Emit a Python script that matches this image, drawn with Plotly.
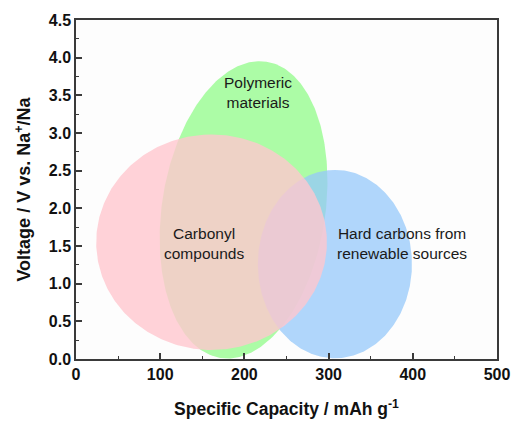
import numpy as np
import plotly.graph_objects as go

# Region data (specific capacity in mAh/g, voltage in V)
region_names = ["Polymeric materials", "Hard carbons from renewable sources", "Carbonyl compounds"]
center_x = [199, 307.5, 161]
center_y = [1.98, 1.26, 1.55]
radius_x = [97, 91.5, 137]      # semi-axis across capacity (mAh/g) before tilt
radius_y = [1.99, 1.25, 1.43]   # semi-axis along voltage (V) before tilt
tilt_deg = [-8.8, 0, 0]         # screen tilt (negative = top leans right)
fill_colors = ["rgba(172,252,166,1)", "rgba(150,200,250,0.75)", "rgba(255,199,206,0.8)"]

label_text = ["Polymeric<br>materials", "Carbonyl<br>compounds", "Hard carbons from<br>renewable sources"]
label_x = [216, 152, 387]
label_y = [3.54, 1.53, 1.53]

x_ticks = [0, 100, 200, 300, 400, 500]
y_ticks = [0.0, 0.5, 1.0, 1.5, 2.0, 2.5, 3.0, 3.5, 4.0, 4.5]
x_range = [0, 500]
y_range = [0, 4.5]

W, H = 511, 421
ml, mr, mt, mb = 76, 14, 20, 62
pw, ph = W - ml - mr, H - mt - mb
kx = pw / (x_range[1] - x_range[0])
ky = ph / (y_range[1] - y_range[0])

fig = go.Figure()
t = np.linspace(0, 2 * np.pi, 361)
for cx, cy, rx, ry, th, col, nm in zip(center_x, center_y, radius_x, radius_y, tilt_deg, fill_colors, region_names):
    a = ry * ky  # vertical semi-axis in px
    b = rx * kx  # horizontal semi-axis in px
    thr = np.deg2rad(th)
    ux, uy = -np.sin(thr), np.cos(thr)
    vx, vy = np.cos(thr), np.sin(thr)
    px = a * np.cos(t) * ux + b * np.sin(t) * vx
    py = a * np.cos(t) * uy + b * np.sin(t) * vy
    fig.add_trace(go.Scatter(
        x=cx + px / kx, y=cy + py / ky, mode="lines", fill="toself",
        fillcolor=col, line=dict(width=0), hoverinfo="skip", name=nm, showlegend=False))

for tx, x, y in zip(label_text, label_x, label_y):
    fig.add_annotation(x=x, y=y, text=tx, showarrow=False,
                       font=dict(family="Liberation Sans, Arial", size=15.5, color="#1a1a1a"),
                       align="center", xanchor="center", yanchor="middle")

axis_common = dict(
    showgrid=False, zeroline=False, showline=True, linecolor="#3a3a3a", linewidth=1.5,
    mirror=True, ticks="inside", ticklen=6, tickwidth=1.5, tickcolor="#3a3a3a", automargin=False,
    tickfont=dict(family="Liberation Sans, Arial", size=16, color="#111"),
)

fig.update_xaxes(range=x_range, tickvals=x_ticks, ticktext=[f"<b>{v}</b>" for v in x_ticks],
                 minor=dict(dtick=50, ticks="inside", ticklen=3, tickwidth=1.2, tickcolor="#3a3a3a"),
                 title=dict(text="<b>Specific Capacity / mAh g<sup>-1</sup></b>",
                            font=dict(family="Liberation Sans, Arial", size=17.5, color="#111"), standoff=21),
                 **axis_common)
fig.update_yaxes(range=y_range, tickvals=y_ticks, ticktext=[f"<b>{v:.1f}</b>" for v in y_ticks],
                 minor=dict(dtick=0.25, ticks="inside", ticklen=3, tickwidth=1.2, tickcolor="#3a3a3a"),
                 title=dict(text="<b>Voltage / V vs. Na<sup>+</sup>/Na</b>",
                            font=dict(family="Liberation Sans, Arial", size=18, color="#111"), standoff=13),
                 **axis_common)

fig.update_layout(width=W, height=H, margin=dict(l=ml, r=mr, t=mt, b=mb),
                  plot_bgcolor="#fdfdfd", paper_bgcolor="white", showlegend=False)

fig.write_html("out.html", config={"displayModeBar": False},
               post_script="document.body.style.margin='0';")
